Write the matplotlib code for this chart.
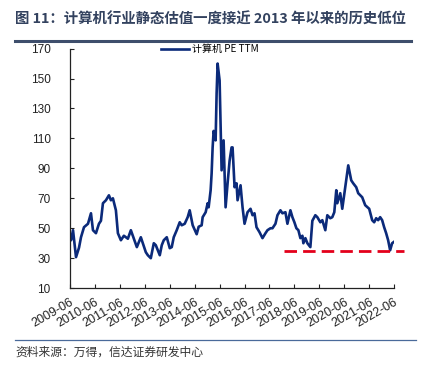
import matplotlib.pyplot as plt
import numpy as np

plt.rcParams['font.family'] = ['Liberation Sans', 'Noto Sans CJK SC', 'DejaVu Sans']

# decimal years and PE TTM values
years = [
    2009.50, 2009.54, 2009.62, 2009.74, 2009.86, 2009.94, 2010.06, 2010.22,
    2010.34, 2010.42, 2010.54, 2010.66, 2010.74, 2010.82, 2010.94, 2011.06,
    2011.14, 2011.22, 2011.34, 2011.42, 2011.54, 2011.66, 2011.82, 2011.94,
    2012.02, 2012.18, 2012.34, 2012.42, 2012.54, 2012.62, 2012.74, 2012.86,
    2012.94, 2013.10, 2013.18, 2013.26, 2013.38, 2013.50, 2013.58, 2013.66,
    2013.78, 2013.90, 2013.98, 2014.10, 2014.22, 2014.30, 2014.42, 2014.58,
    2014.66, 2014.78, 2014.82, 2014.94, 2015.02, 2015.06, 2015.14, 2015.18,
    2015.22, 2015.26, 2015.34, 2015.38, 2015.42, 2015.50, 2015.54, 2015.58,
    2015.66, 2015.74, 2015.82, 2015.90, 2015.98, 2016.02, 2016.10, 2016.18,
    2016.22, 2016.34, 2016.42, 2016.50, 2016.62, 2016.74, 2016.82, 2016.90,
    2016.98, 2017.10, 2017.22, 2017.34, 2017.42, 2017.54, 2017.62, 2017.74,
    2017.82, 2017.94, 2018.02, 2018.14, 2018.22, 2018.34, 2018.42, 2018.50,
    2018.58, 2018.66, 2018.74, 2018.82, 2018.86, 2018.94, 2019.02, 2019.14,
    2019.22, 2019.34, 2019.42, 2019.54, 2019.62, 2019.74, 2019.82, 2019.94,
    2020.02, 2020.10, 2020.18, 2020.22, 2020.34, 2020.42, 2020.54, 2020.66,
    2020.78, 2020.86, 2020.98, 2021.06, 2021.22, 2021.34, 2021.50, 2021.62,
    2021.70, 2021.78, 2021.86, 2021.94, 2022.02, 2022.10,
    2022.18, 2022.26, 2022.34, 2022.42, 2022.50,
]
pe_ttm = [
    44.0, 42.0, 48.7, 30.7, 37.0, 44.0, 50.7, 53.0,
    60.0, 48.7, 46.7, 53.0, 55.0, 66.7, 68.7, 72.0,
    68.7, 70.0, 62.0, 46.7, 42.0, 45.0, 43.0, 48.7,
    45.0, 37.4, 44.0, 40.0, 34.0, 32.0, 30.0, 40.0,
    38.7, 32.0, 38.7, 42.0, 44.0, 36.7, 37.4, 44.0,
    48.7, 54.0, 52.0, 53.0, 57.4, 62.0, 52.0, 46.0,
    51.0, 52.0, 57.4, 60.7, 66.7, 64.0, 75.4, 86.7,
    104.0, 115.0, 108.7, 140.0, 160.0, 148.7, 117.0, 88.7,
    108.7, 64.0, 80.0, 95.0, 104.0, 104.0, 77.4, 80.0,
    68.7, 78.7, 64.0, 53.0, 60.7, 63.0, 58.7, 60.0,
    50.7, 47.4, 43.4, 46.7, 48.7, 50.0, 50.0, 53.0,
    58.7, 62.0, 60.0, 60.7, 53.0, 62.0, 57.4, 54.0,
    50.0, 48.7, 43.4, 45.0, 40.0, 43.4, 40.0, 37.4,
    55.0, 58.7, 57.4, 54.0, 55.4, 48.7, 58.7, 56.7,
    57.4, 60.7, 75.4, 66.7, 73.4, 63.0, 77.4, 92.0,
    82.0, 80.0, 77.4, 73.4, 70.7, 65.4, 63.0, 55.4,
    54.0, 56.7, 55.4, 57.4, 55.4, 50.7,
    46.7, 42.0, 35.3, 40.0, 41.0,
]

low_level = 35
low_start, low_end = 2018.10, 2022.88

tick_years = list(range(2009, 2023))
tick_labels = [f'{y}-06' for y in tick_years]
y_ticks = list(range(10, 171, 20))

fig = plt.figure(figsize=(4.27, 3.68), dpi=100)
ax = fig.add_axes([0.164, 0.217, 0.759, 0.651])

ax.plot(years, pe_ttm, color='#0B2A7A', lw=1.9, label='计算机 PE TTM')
ax.plot([low_start, low_end], [low_level, low_level], color='#E3001B',
        lw=2, ls=(0, (4.5, 2.2)), clip_on=False)

ax.set_xlim(2009.5, 2022.5)
ax.set_ylim(10, 170)
ax.set_yticks(y_ticks)
ax.set_xticks([y + 0.5 for y in tick_years])
ax.set_xticklabels(tick_labels, rotation=30, ha='right', rotation_mode='anchor')
ax.tick_params(direction='in', length=3, width=0.8, labelsize=8.5, colors='#222222')
ax.tick_params(axis='y', pad=14)
ax.tick_params(axis='x', pad=6, labelsize=9)
for side in ['top', 'right']:
    ax.spines[side].set_visible(False)
for side in ['left', 'bottom']:
    ax.spines[side].set_linewidth(0.9)
    ax.spines[side].set_color('#222222')

leg = ax.legend(loc='upper center', bbox_to_anchor=(0.43, 1.035), frameon=False,
                handlelength=2.8, handletextpad=0.3, fontsize=7.2, borderaxespad=0)
for t in leg.get_texts():
    t.set_family(['Noto Sans CJK SC', 'DejaVu Sans'])

fig.text(0.035, 0.948, '图 11：计算机行业静态估值一度接近 2013 年以来的历史低位',
         fontsize=10.4, fontweight='bold', color='#33425F', va='center',
         family=['Noto Sans CJK SC', 'DejaVu Sans'])
fig.add_artist(plt.Line2D([0.035, 0.962], [0.889, 0.889], color='#3E4E6C', lw=2.2))
fig.add_artist(plt.Line2D([0.035, 0.975], [0.076, 0.076], color='#4A6A9A', lw=0.9))
fig.text(0.035, 0.043, '资料来源：万得，信达证券研发中心', fontsize=8.5, color='#333333',
         va='center', style='italic', family=['Noto Sans CJK SC', 'DejaVu Sans'])

fig.savefig('out.png', dpi=100)
